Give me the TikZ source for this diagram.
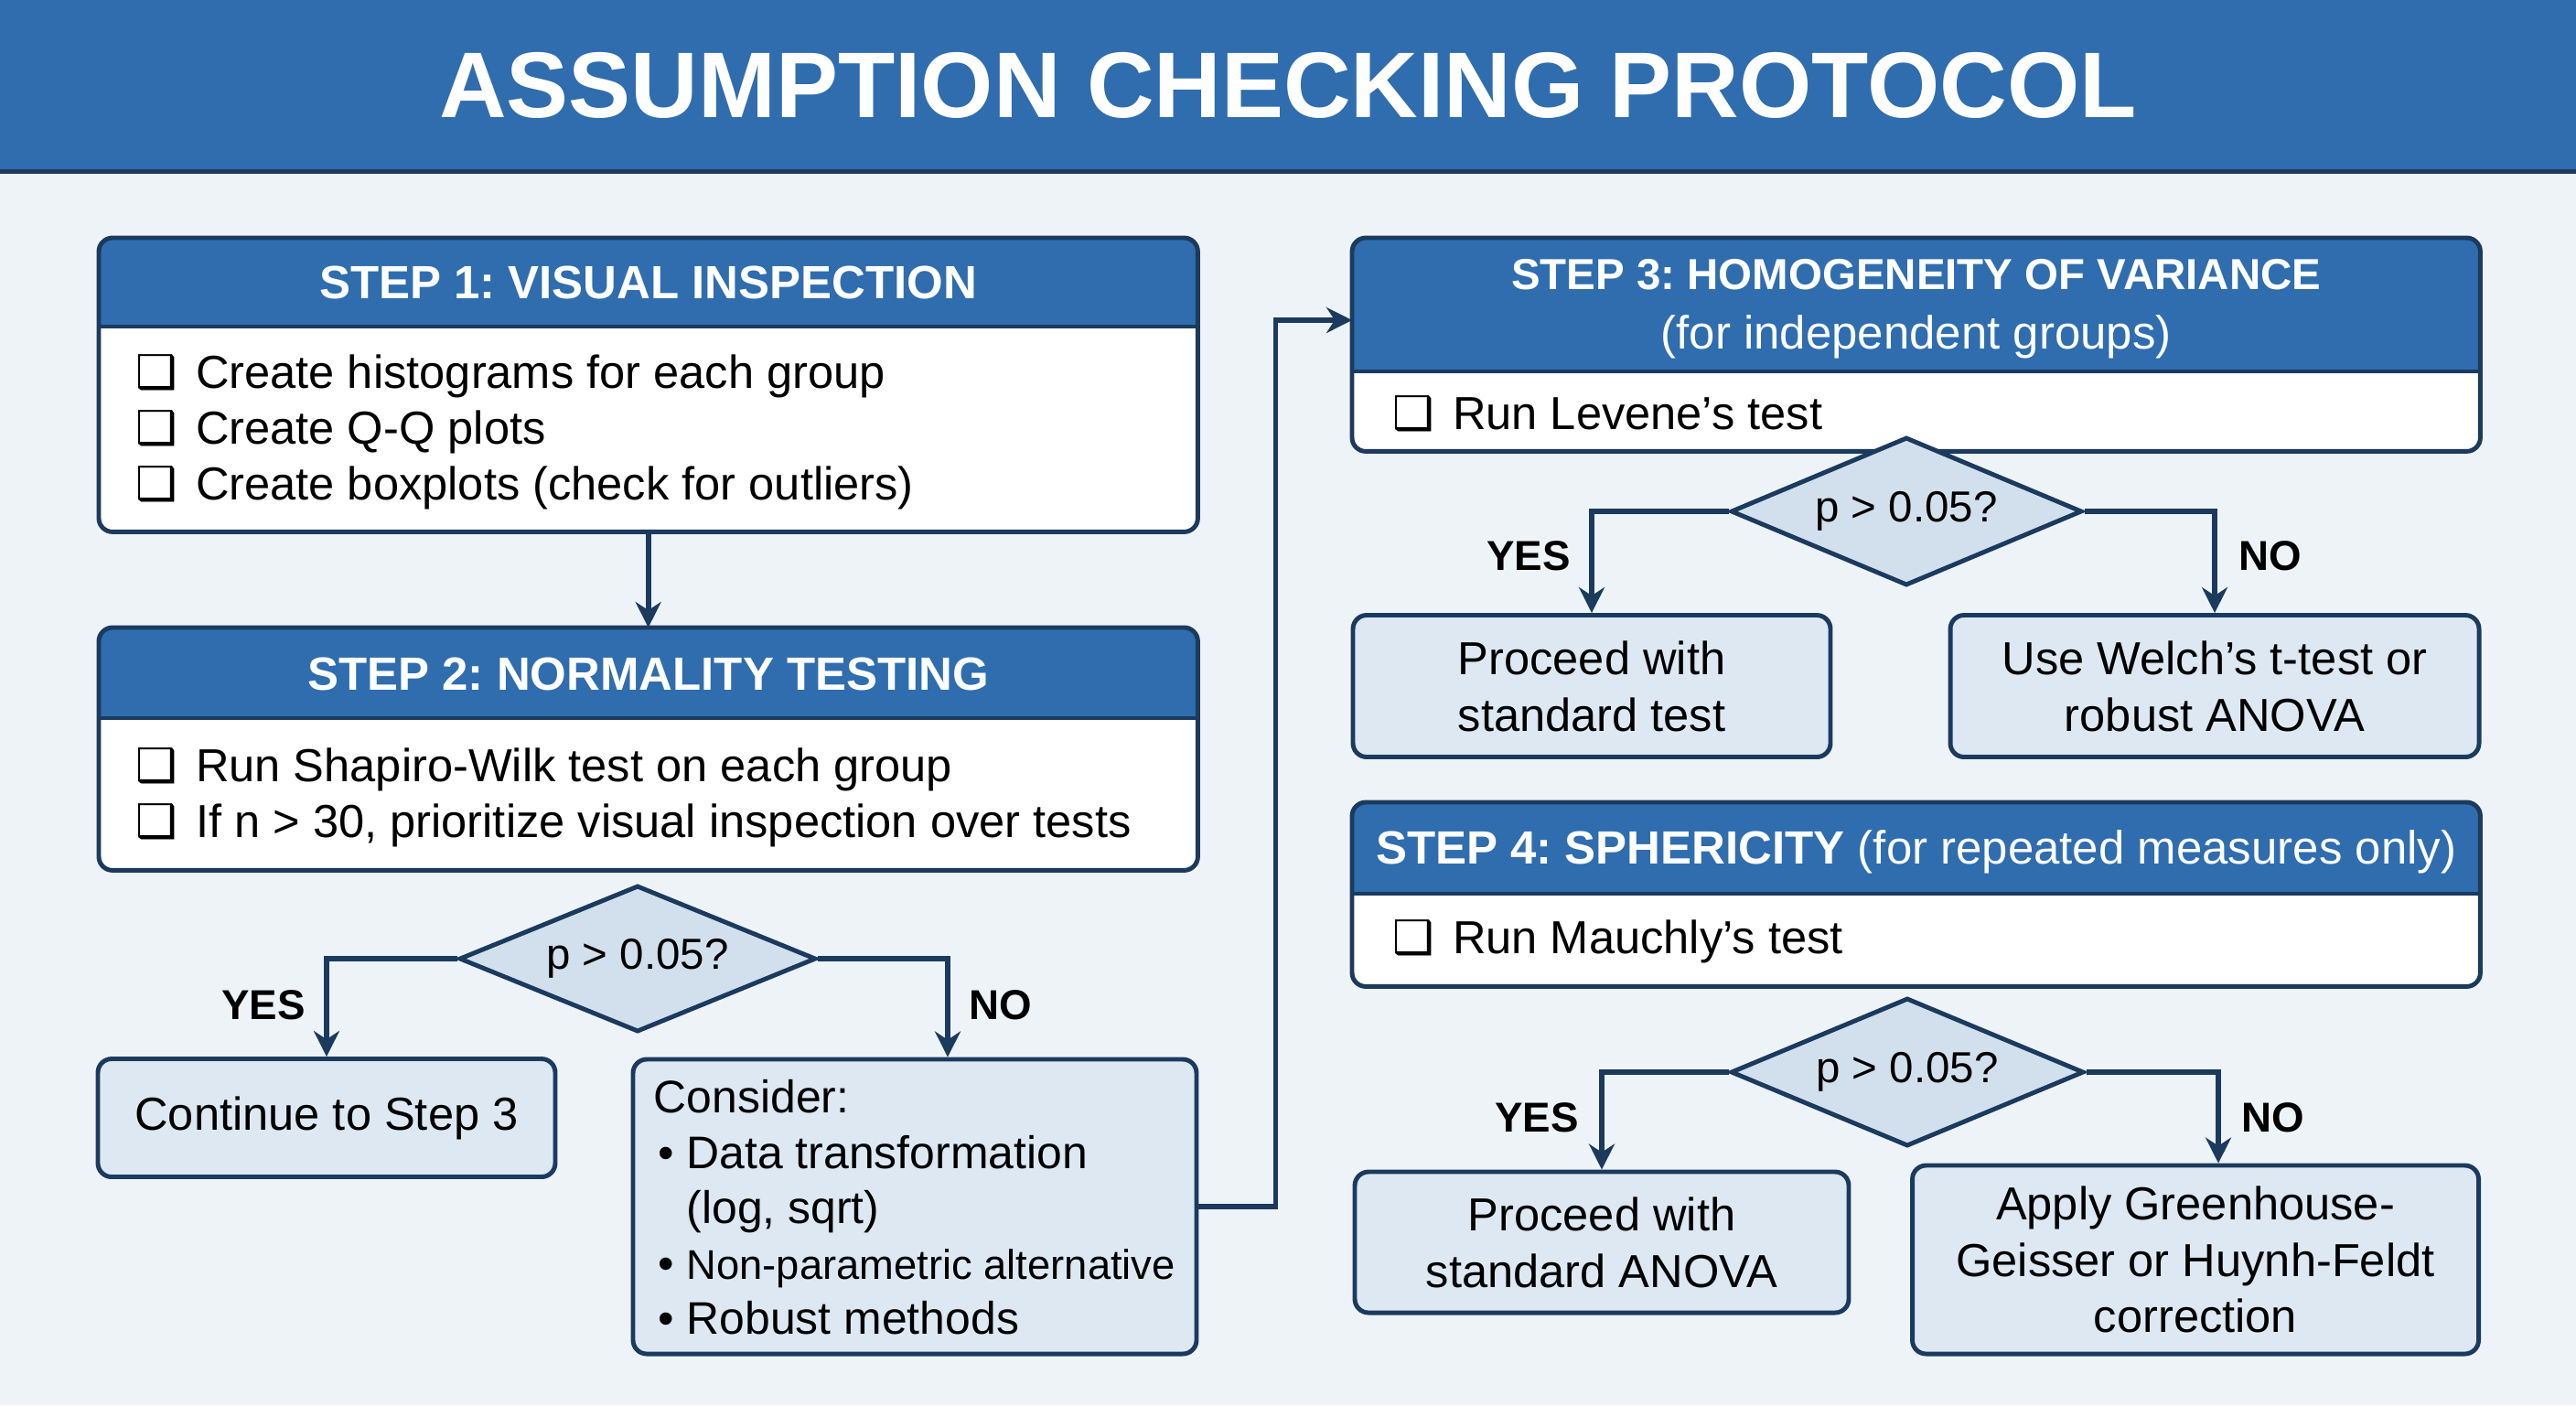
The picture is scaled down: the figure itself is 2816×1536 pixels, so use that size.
\documentclass[tikz,border=0pt]{standalone}
\usepackage{fontspec}
\setmainfont{Liberation Sans}
\newfontfamily\symfont{DejaVu Sans}
\usepackage{tikz}
\usetikzlibrary{arrows.meta,positioning,calc,shapes.geometric}
\definecolor{Navy}{HTML}{1B3A5E}
\definecolor{Hdr}{HTML}{2F6DAE}
\definecolor{Bg}{HTML}{EEF3F8}
\definecolor{Pale}{HTML}{DDE8F3}
\definecolor{Dia}{HTML}{D2E0EE}
\frenchspacing
\newcommand{\chk}{{\symfont\char"2751}\hspace{2mm}}
\newcommand{\bul}{\hspace*{0.5mm}\makebox[3.1mm][l]{\textbullet}}
% card with blue header band: name, north west corner, width, height, header height
\newcommand{\stepcard}[5]{%
  \node[cardbox,minimum width=#3,minimum height=#4,anchor=north west] (#1) at (#2) {};
  \fill[Hdr,rounded corners=1.5mm] (#1.north west) rectangle ($(#1.north east)+(0,#5)$);
  \fill[Hdr] ($(#1.north west)+(0,#5-30)$) rectangle ($(#1.north east)+(0,#5)$);
  \draw[Navy,line width=1.4pt] ($(#1.north west)+(0,#5)$) -- ($(#1.north east)+(0,#5)$);
  \draw[cardline] (#1.north west) rectangle (#1.south east);
}
\tikzset{
  cardbox/.style={fill=white,inner sep=0pt},
  cardline/.style={draw=Navy,line width=1.4pt,rounded corners=1.5mm},
  hd/.style={text=white,align=center,font=\fontsize{14.5}{18.5}\selectfont\bfseries},
  body/.style={anchor=west,align=left,inner sep=0pt,font=\fontsize{14.4}{17.4}\selectfont},
  res/.style={draw=Navy,line width=1.4pt,fill=Pale,rounded corners=1.5mm,align=center,inner sep=0pt,font=\fontsize{14.4}{17.6}\selectfont},
  dec/.style={diamond,aspect=2.4,draw=Navy,line width=1.4pt,fill=Dia,inner sep=0pt,font=\fontsize{13.5}{16}\selectfont},
  arr/.style={-{Stealth[length=2.8mm,width=2.8mm]},draw=Navy,line width=1.6pt},
  yn/.style={font=\fontsize{13}{16}\selectfont\bfseries},
}
\begin{document}
\begin{tikzpicture}[x=0.1mm,y=-0.1mm,
 titlebar/.style={fill=Hdr,text=white,minimum width=281.6mm,minimum height=18.7mm,inner sep=0pt,font=\fontsize{29}{34}\selectfont\bfseries}]
% page and title
\useasboundingbox (0,0) rectangle (2816,1536);
\fill[Bg] (0,0) rectangle (2816,1536);
\node[titlebar] (ttl) at (1408,93.5) {ASSUMPTION CHECKING PROTOCOL};
\draw[Navy,line width=1.4pt] (ttl.south west) -- (ttl.south east);
% step 1
\stepcard{s1}{108,260}{120mm}{32mm}{97}
\node[hd] (h1) at ($(s1.north)+(0,49)$) {STEP 1: VISUAL INSPECTION};
\node[body] (b1) at (148,472) {\chk Create histograms for each group\\ \chk Create Q-Q plots\\ \chk Create boxplots (check for outliers)};
% step 2
\stepcard{s2}{108,686}{120mm}{26.4mm}{99}
\node[hd] (h2) at ($(s2.north)+(0,51)$) {STEP 2: NORMALITY TESTING};
\node[body] (b2) at (148,872) {\chk Run Shapiro-Wilk test on each group\\ \chk If n > 30, prioritize visual inspection over tests};
\draw[arr] (s1.south) -- (s2.north);
% normality decision
\node[dec,minimum width=39mm,minimum height=16mm] (d1) at (697,1048) {p > 0.05?};
\node[res,minimum width=50mm,minimum height=12.9mm] (cont) at (357,1222) {Continue to Step 3};
\node[res,minimum width=61.6mm,minimum height=32.2mm] (cons) at (1000,1319) {};
\node[body,font=\fontsize{14.2}{17.2}\selectfont] (consx) at (714,1320)
  {Consider:\\ \bul Data transformation\\ \hspace*{3.6mm}(log, sqrt)\\ \bul{\fontsize{12.9}{17.2}\selectfont Non-parametric alternative}\\ \bul Robust methods};
\draw[arr] (d1.west) -| (cont.north);
\draw[arr] (d1.east) -| ([xshift=3.6mm]cons.north);
\node[yn] at (288,1099) {YES};
\node[yn] at (1094,1099) {NO};
% step 3
\stepcard{s3}{1478,260}{123.2mm}{23.2mm}{146}
\node[hd] (h3) at ($(s3.north)+(0,78)$) {{\fontsize{13.5}{18}\selectfont STEP 3: HOMOGENEITY OF VARIANCE}\\ \mdseries (for independent groups)};
\node[body] (b3) at (1522,452) {\chk Run Levene’s test};
% on to step 3
\draw[arr] (cons.east) -- ++(8.4mm,0) |- ([yshift=-9mm]s3.north west);
\node[dec,minimum width=38.4mm,minimum height=16.2mm] (d2) at (2084,559) {p > 0.05?};
\node[res,minimum width=52.2mm,minimum height=15.5mm] (pr1) at (1740,750) {Proceed with\\standard test};
\node[res,minimum width=57.8mm,minimum height=15.5mm] (wel) at (2421,750) {Use Welch’s t-test or\\robust ANOVA};
\draw[arr] (d2.west) -| (pr1.north);
\draw[arr] (d2.east) -| (wel.north);
\node[yn] at (1671,608) {YES};
\node[yn] at (2482,608) {NO};
% step 4
\stepcard{s4}{1478,877}{123.2mm}{20mm}{100}
\node[hd] (h4) at ($(s4.north)+(0,54)$) {STEP 4: SPHERICITY \mdseries(for repeated measures only)};
\node[body] (b4) at (1522,1029) {\chk Run Mauchly’s test};
\node[dec,minimum width=38.6mm,minimum height=16.2mm] (d3) at (2085,1172) {p > 0.05?};
\node[res,minimum width=54mm,minimum height=15.4mm] (pa) at (1751,1358) {Proceed with\\standard ANOVA};
\node[res,minimum width=61.9mm,minimum height=20.6mm] (gg) at (2400,1377) {Apply Greenhouse-\\Geisser or Huynh-Feldt\\correction};
\draw[arr] (d3.west) -| (pa.north);
\draw[arr] (d3.east) -| ([xshift=2.5mm]gg.north);
\node[yn] at (1680,1222) {YES};
\node[yn] at (2485,1222) {NO};
\end{tikzpicture}
\end{document}
